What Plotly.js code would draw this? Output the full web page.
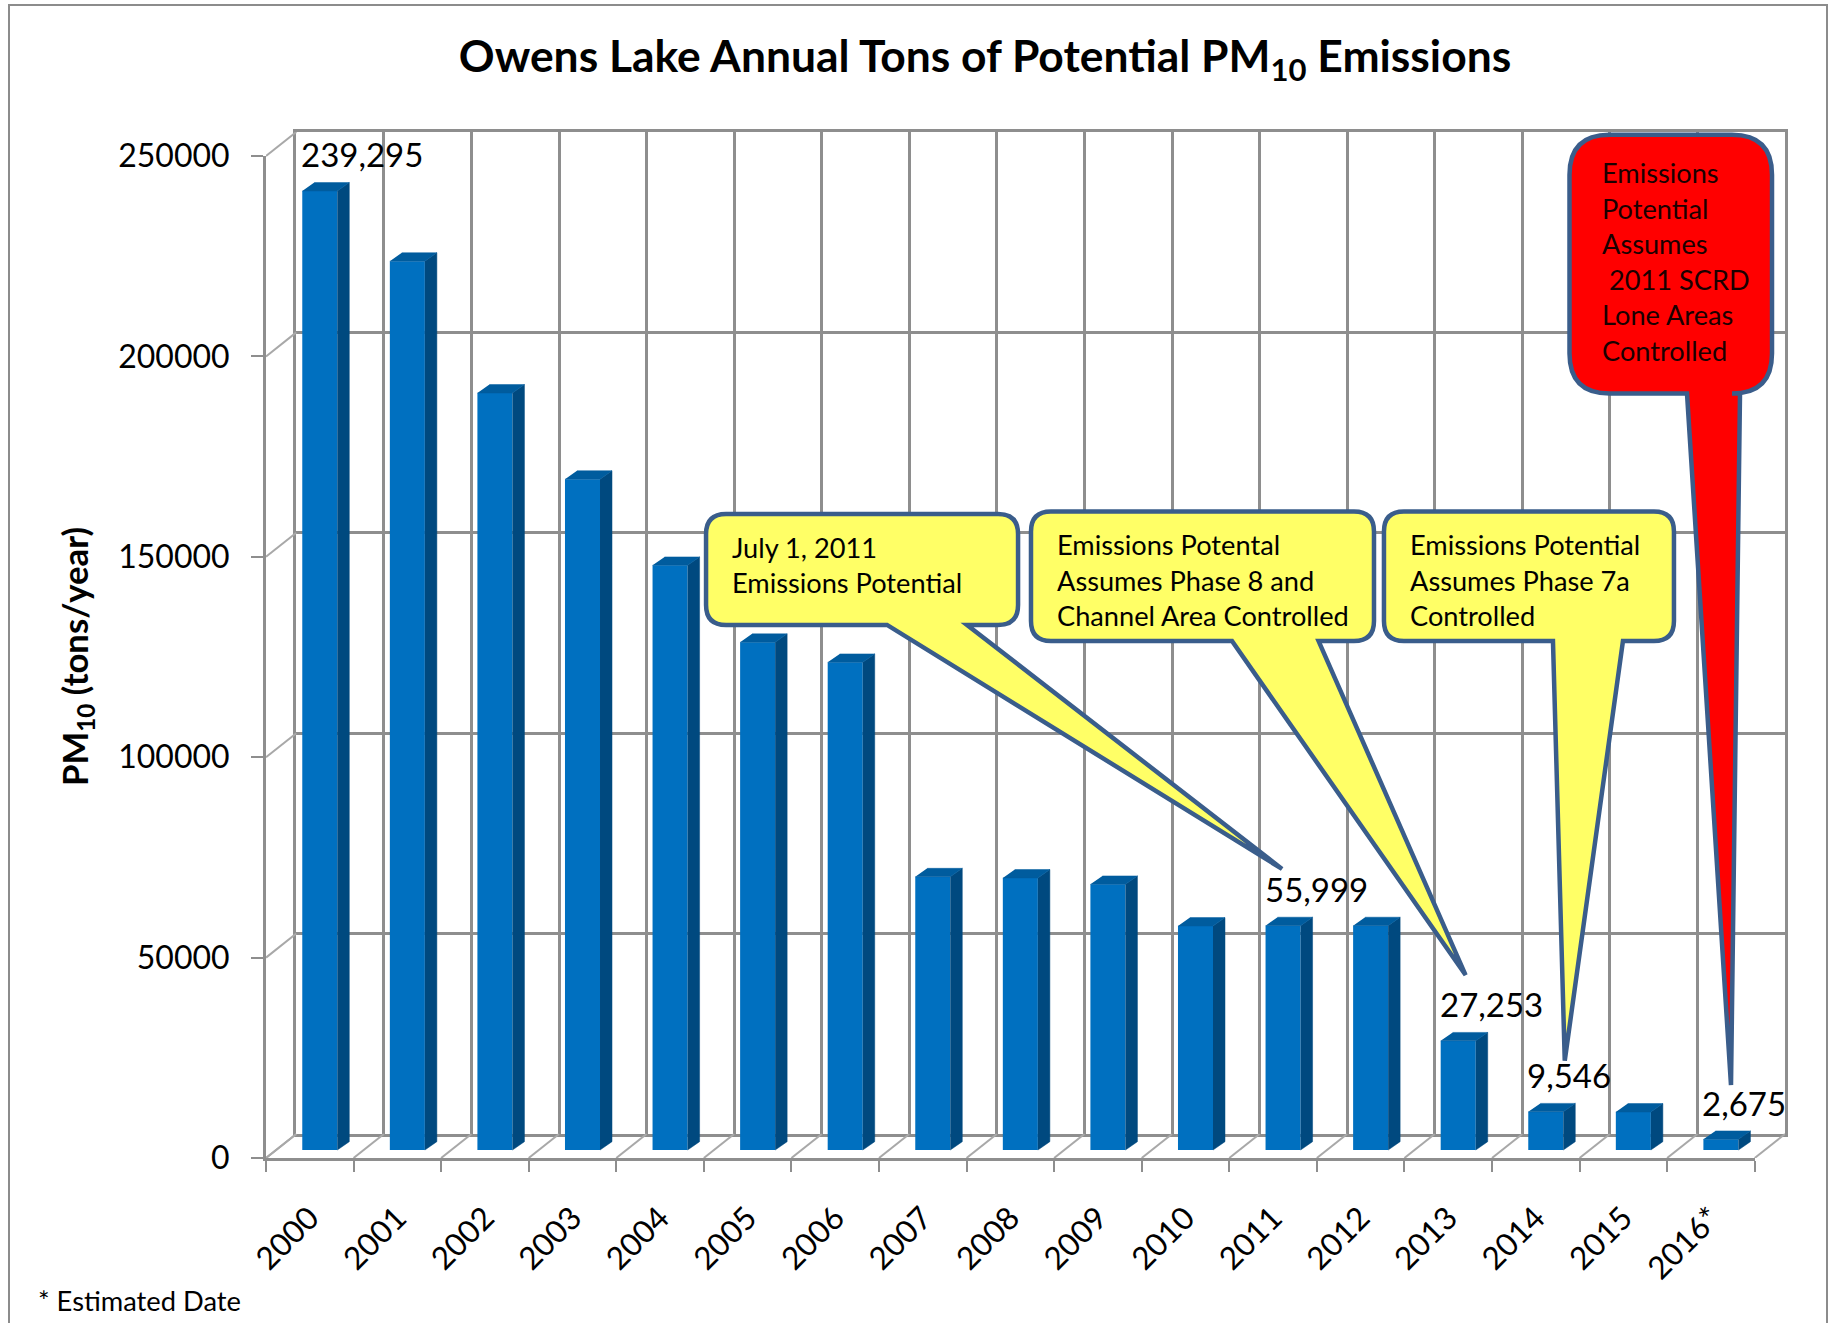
<!DOCTYPE html>
<html>
<head>
<meta charset="utf-8">
<script src="https://cdn.plot.ly/plotly-3.0.1.min.js"></script>
<style>
html, body { margin: 0; padding: 0; background: #ffffff; }
#wrap { position: relative; width: 1835px; height: 1323px; overflow: hidden; }
#chart { position: absolute; left: 0; top: 0; width: 1835px; height: 1323px; }
#frame { position: absolute; left: 8px; top: 4px; width: 1816px; height: 1400px; border: 2px solid #8c8c8c; pointer-events: none; }
</style>
</head>
<body>
<div id="wrap"><div id="chart"></div><div id="frame"></div></div>
<script>
// ---------------- DATA ----------------
const years = ['2000','2001','2002','2003','2004','2005','2006','2007','2008','2009','2010','2011','2012','2013','2014','2015','2016*'];
const pm10 = [239295, 221800, 188900, 167400, 145900, 126700, 121700, 68200, 67900, 66300, 55900, 55999, 56000, 27253, 9546, 9500, 2675];
const yTickVals = [0, 50000, 100000, 150000, 200000, 250000];
const labeledYears = ['2000', '2011', '2013', '2014', '2016*'];
const titleText = 'Owens Lake Annual Tons of Potential PM<sub>10</sub> Emissions';
const yTitleText = 'PM<sub>10</sub> (tons/year)';
const footnoteText = '* Estimated Date';
const calloutTargets = ['2011', '2013', '2014', '2016*'];
const calloutLines = [
  ['July 1, 2011', 'Emissions Potential'],
  ['Emissions Potental', 'Assumes Phase 8 and', 'Channel Area Controlled'],
  ['Emissions Potential', 'Assumes Phase 7a', 'Controlled'],
  ['Emissions', 'Potential', 'Assumes', ' 2011 SCRD', 'Lone Areas', 'Controlled']
];

// ---------------- STYLE / LAYOUT ----------------
const FONT = 'Lato, "Open Sans", sans-serif';
const COL = {
  front: '#0070C0', side: '#00497F', top: '#005C9E',
  grid: '#8e8e8e', diag: '#a8a8a8', outline: '#3A5D8B',
  yellow: '#FFFF66', red: '#FF0000'
};
const MARGIN = { l: 266, r: 50, t: 132, b: 165 };
const DEPTH = { dx: 0.346, dy: 6000 };           // front -> back wall offset (category units, value units)
const BAR = { plane: 0.33, width: 0.4, sideDx: 0.137, topDy: 2100 };
const Y_MAX = 250000;
const CALLOUT_GEOM = [   // pixel offsets from the target bar's front-top-left corner, y up
  { box: [-559.5, -247.5, 411.7, 300.7], tail: [-378.5, -298.5], tip: [16.5, 56.7], r: 20, fill: COL.yellow, pad: [26, 44], color: '#000000' },
  { box: [-409.7, -66.7, 529.4, 399.8],  tail: [-208.7, -122.1], tip: [24.9, 65.8], r: 20, fill: COL.yellow, pad: [26, 44], color: '#000000' },
  { box: [-144.3, 145.7, 600.4, 470.8],  tail: [24.7, 94.7],     tip: [36.5, 51.0], r: 20, fill: COL.yellow, pad: [26, 44], color: '#000000' },
  { box: [-133.9, 68.6, 1004.6, 745.8],  tail: [-16.4, 36.6],    tip: [27.6, 54.3], r: 40, fill: COL.red,    pad: [32, 48.3], color: '#1a0000' }
];
const CALLOUT_FONT = 27.2, CALLOUT_GAP = 35.5;
const LABEL_FONT = 33, LABEL_RISE = 24;

// ---------------- BUILD ----------------
const n = years.length;
const xSpan = n + DEPTH.dx, ySpan = Y_MAX + DEPTH.dy;
const backX = [DEPTH.dx / xSpan, 1], frontX = [0, n / xSpan];
const backY = [DEPTH.dy / ySpan, 1], frontY = [0, Y_MAX / ySpan];
const sx = -(1 - BAR.plane) * DEPTH.dx, sy = -(1 - BAR.plane) * DEPTH.dy;
const idx = years.map((_, i) => i);
const barX = idx.map(i => i + sx);
const barTop = pm10.map(v => v + sy);

const sideX = [], sideY = [], topX = [], topY = [];
idx.forEach(i => {
  const xl = barX[i] - BAR.width / 2, xr = barX[i] + BAR.width / 2;
  const y0 = sy, y1 = barTop[i];
  sideX.push(xr, xr + BAR.sideDx, xr + BAR.sideDx, xr, null);
  sideY.push(y0, y0 + BAR.topDy, y1 + BAR.topDy, y1, null);
  topX.push(xl, xr, xr + BAR.sideDx, xl + BAR.sideDx, null);
  topY.push(y1, y1, y1 + BAR.topDy, y1 + BAR.topDy, null);
});

const traces = [
  { type: 'scatter', x: years, y: pm10, xaxis: 'x', yaxis: 'y', mode: 'markers', marker: { opacity: 0 }, hoverinfo: 'skip', showlegend: false },
  { type: 'scatter', x: years, y: pm10, xaxis: 'x2', yaxis: 'y2', mode: 'markers', marker: { opacity: 0 }, hoverinfo: 'skip', showlegend: false },
  { type: 'bar', x: barX, y: pm10, base: sy, width: BAR.width, xaxis: 'x3', yaxis: 'y3',
    marker: { color: COL.front, line: { width: 0 } }, hoverinfo: 'skip', showlegend: false },
  { type: 'scatter', x: sideX, y: sideY, xaxis: 'x3', yaxis: 'y3', mode: 'lines', fill: 'toself',
    fillcolor: COL.side, line: { color: COL.side, width: 0.5 }, hoverinfo: 'skip', showlegend: false },
  { type: 'scatter', x: topX, y: topY, xaxis: 'x3', yaxis: 'y3', mode: 'lines', fill: 'toself',
    fillcolor: COL.top, line: { color: COL.top, width: 0.5 }, hoverinfo: 'skip', showlegend: false }
];

const shapes = [];
yTickVals.forEach(t => shapes.push({
  type: 'line', xref: 'x3', yref: 'y3', x0: -0.5 - DEPTH.dx, y0: t - DEPTH.dy, x1: -0.5, y1: t,
  line: { color: COL.diag, width: 2 }, layer: 'below'
}));
for (let k = 0; k <= n; k++) {
  const b = k - 0.5;
  shapes.push({ type: 'line', xref: 'x3', yref: 'y3', x0: b - DEPTH.dx, y0: -DEPTH.dy, x1: b, y1: 0,
    line: { color: COL.diag, width: 2 }, layer: 'below' });
}

const annotations = [];
calloutTargets.forEach((target, c) => {
  const g = CALLOUT_GEOM[c];
  const ti = years.indexOf(target);
  const ax = barX[ti] - BAR.width / 2, ay = barTop[ti];
  const [L, R, T, B] = g.box, r = g.r;
  const p = [
    `M${L + r},${T}`, `L${R - r},${T}`, `Q${R},${T} ${R},${T - r}`, `L${R},${B + r}`,
    `Q${R},${B} ${R - r},${B}`, `L${g.tail[1]},${B}`, `L${g.tip[0]},${g.tip[1]}`, `L${g.tail[0]},${B}`,
    `L${L + r},${B}`, `Q${L},${B} ${L},${B + r}`, `L${L},${T - r}`, `Q${L},${T} ${L + r},${T}`, 'Z'
  ].join(' ');
  shapes.push({ type: 'path', xref: 'x3', yref: 'y3', xsizemode: 'pixel', ysizemode: 'pixel',
    xanchor: ax, yanchor: ay, path: p, fillcolor: g.fill, line: { color: COL.outline, width: 4.5 }, layer: 'above' });
  calloutLines[c].forEach((line, k) => {
    annotations.push({ xref: 'x3', yref: 'y3', x: ax, y: ay, showarrow: false,
      xanchor: 'left', yanchor: 'middle',
      xshift: L + g.pad[0] - 2, yshift: T - g.pad[1] - k * CALLOUT_GAP + 0.387 * CALLOUT_FONT,
      text: line.replace(/^ /, '\u00a0'), font: { family: FONT, size: CALLOUT_FONT, color: g.color } });
  });
});

labeledYears.forEach(yr => {
  const i = years.indexOf(yr);
  annotations.push({ xref: 'x3', yref: 'y3', x: barX[i] - BAR.width / 2, y: barTop[i], showarrow: false,
    xanchor: 'left', yanchor: 'middle', xshift: -3, yshift: LABEL_RISE + 0.387 * LABEL_FONT,
    text: pm10[i].toLocaleString('en-US'), font: { family: FONT, size: LABEL_FONT, color: '#000000' } });
});

annotations.push({ xref: 'paper', yref: 'y2', x: 0, y: Y_MAX / 2, xshift: 77 - MARGIN.l, xanchor: 'center', yanchor: 'middle',
  textangle: -90, showarrow: false, text: yTitleText, font: { family: FONT, size: 34.7, weight: 700, color: '#000000' } });
annotations.push({ xref: 'paper', yref: 'paper', x: 0, y: 0, xshift: 38 - MARGIN.l - 2, yshift: -(1311 - (1323 - MARGIN.b)) + 0.387 * 27.3,
  xanchor: 'left', yanchor: 'middle', showarrow: false, text: footnoteText, font: { family: FONT, size: 27.3, color: '#000000' } });

const gridAxis = { showgrid: true, gridcolor: COL.grid, gridwidth: 3, showticklabels: false, ticks: '',
  showline: true, mirror: true, linecolor: COL.grid, linewidth: 3, zeroline: false, fixedrange: true };

const layout = {
  width: 1835, height: 1323,
  margin: { l: MARGIN.l, r: MARGIN.r, t: MARGIN.t, b: MARGIN.b, pad: 0 },
  paper_bgcolor: '#ffffff', plot_bgcolor: 'rgba(0,0,0,0)',
  showlegend: false,
  title: { text: titleText, font: { family: FONT, size: 44.4, weight: 700, color: '#000000' },
    x: 985 / 1835, xanchor: 'center', xref: 'container', y: 1 - 56 / 1323, yanchor: 'middle', yref: 'container' },
  xaxis: Object.assign({}, gridAxis, { domain: backX, type: 'category', range: [-0.5, n - 0.5], tickson: 'boundaries', anchor: 'y' }),
  yaxis: Object.assign({}, gridAxis, { domain: backY, range: [0, Y_MAX], tickvals: yTickVals, anchor: 'x' }),
  xaxis2: { domain: frontX, type: 'category', range: [-0.5, n - 0.5], tickson: 'boundaries', anchor: 'y2',
    ticks: 'outside', ticklen: 11, tickwidth: 2, tickcolor: COL.grid, showline: true, linecolor: COL.grid, linewidth: 3,
    showgrid: false, zeroline: false, tickangle: -45, ticklabelstandoff: 26,
    tickfont: { family: FONT, size: 31.5, color: '#000000' }, fixedrange: true },
  yaxis2: { domain: frontY, range: [0, Y_MAX], tickvals: yTickVals, tickformat: 'd', anchor: 'x2',
    ticks: 'outside', ticklen: 12, tickwidth: 2, tickcolor: COL.grid, showline: true, linecolor: COL.grid, linewidth: 3,
    showgrid: false, zeroline: false, ticklabelstandoff: 15, tickfont: { family: FONT, size: 32, color: '#000000' }, fixedrange: true },
  xaxis3: { domain: [0, 1], range: [-0.5 - DEPTH.dx, n - 0.5], visible: false, anchor: 'y3', fixedrange: true },
  yaxis3: { domain: [0, 1], range: [-DEPTH.dy, Y_MAX], visible: false, anchor: 'x3', fixedrange: true },
  shapes: shapes,
  annotations: annotations
};

Plotly.newPlot('chart', traces, layout, { displayModeBar: false, staticPlot: true });
</script>
</body>
</html>
